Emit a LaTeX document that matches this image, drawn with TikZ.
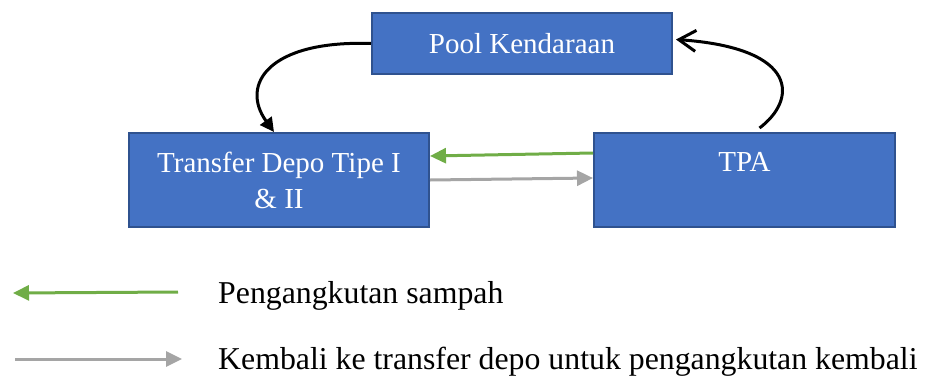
\documentclass[tikz,border=0pt]{standalone}
\usepackage{fontspec}
\setmainfont{Liberation Serif}
\usetikzlibrary{arrows.meta}
\definecolor{boxfill}{HTML}{4472C4}
\definecolor{boxline}{HTML}{2F528F}
\definecolor{haulgreen}{HTML}{70AD47}
\definecolor{returngray}{HTML}{A5A5A5}
\tikzset{
  unitbox/.style={draw=boxline, fill=boxfill, line width=2pt, text=white,
    align=center, inner sep=0pt, font=\fontsize{29}{36}\selectfont},
  loopline/.style={line width=3pt, black},
  haul/.style={line width=3pt, haulgreen, -{Triangle[length=16pt,width=15pt]}},
  back/.style={line width=3pt, returngray, -{Triangle[length=16pt,width=15pt]}},
  legendtext/.style={anchor=base west, inner sep=0pt, font=\fontsize{31.8}{38}\selectfont}
}
\begin{document}
\begin{tikzpicture}[x=1pt,y=-1pt]
\useasboundingbox (0,0) rectangle (932,378);

% process units
\node[unitbox, minimum width=300pt, minimum height=61pt] (pool) at (522,43.5) {Pool Kendaraan};
\node[unitbox, minimum width=300pt, minimum height=94pt] (depo) at (279,180) {Transfer Depo Tipe I\\\& II};
\node[unitbox, minimum width=301pt, minimum height=94pt] (tpa) at (744.5,180) {TPA\\\mbox{}};

% vehicle loop: pool -> depo, tpa -> pool
\draw[loopline, -{Triangle[length=14pt,width=14pt]}]
  (pool.west) .. controls (268,40) and (240,85) .. ([xshift=-5pt]depo.north);
\draw[loopline, -{Straight Barb[length=17pt,width=21pt]}]
  ([xshift=15pt,yshift=4pt]tpa.north) .. controls (797,100) and (800,48) .. ([xshift=3pt,yshift=4pt]pool.east);

% transport between depo and landfill
\draw[haul] ([yshift=27pt]tpa.west) -- ([yshift=24pt]depo.east);
\draw[back] (depo.east) -- ([yshift=2pt]tpa.west);

% legend
\coordinate (lg1a) at (178,292);
\coordinate (lg1b) at (13,293);
\coordinate (lg2a) at (15,359);
\coordinate (lg2b) at (182,359);
\draw[haul] (lg1a) -- (lg1b);
\draw[back] (lg2a) -- (lg2b);
\node[legendtext] (leg1) at (218,303) {Pengangkutan sampah};
\node[legendtext] (leg2) at (218,369) {Kembali ke transfer depo untuk pengangkutan kembali};
\end{tikzpicture}
\end{document}
